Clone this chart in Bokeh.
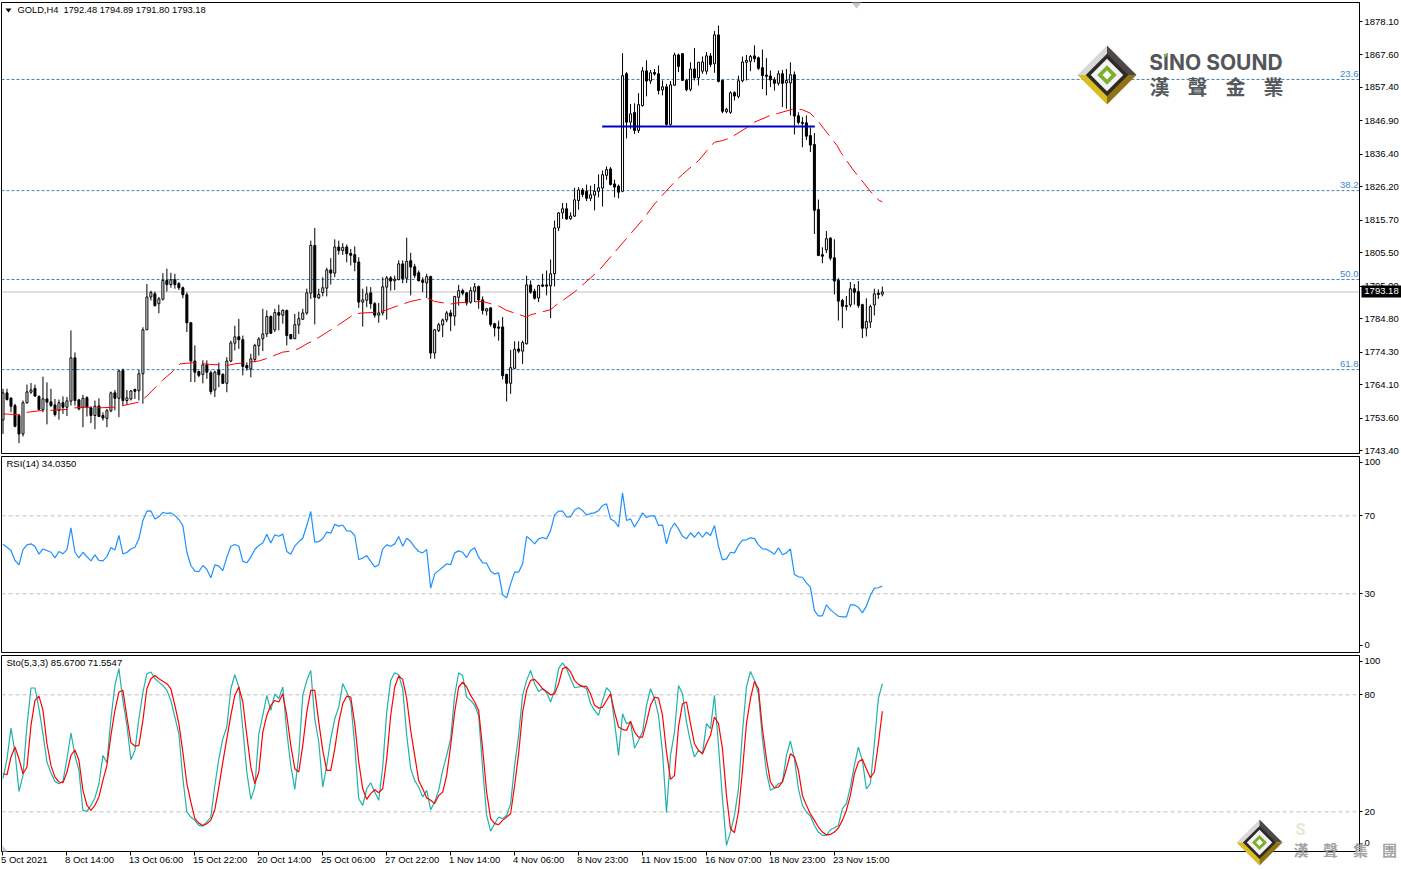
import numpy as np
from bokeh.plotting import figure
from bokeh.layouts import column
from bokeh.models import (Range1d, FixedTicker, Label, PolyAnnotation, ColumnDataSource, AllLabels)
from bokeh.embed import file_html
from bokeh.resources import INLINE

symbol_text = "GOLD,H4\u00a0\u00a01792.48 1794.89 1791.80 1793.18"
rsi_text = "RSI(14) 34.0350"
sto_text = "Sto(5,3,3) 85.6700 71.5547"

opens = [1753.0,1761.5,1759.8,1757.5,1754.4,1748.6,1758.4,1761.7,1762.9,1760.4,
1756.3,1759.6,1758.7,1757.7,1756.0,1758.4,1757.0,1758.9,1772.5,1759.3,
1757.0,1760.0,1756.8,1754.4,1757.4,1754.4,1753.5,1755.9,1761.5,1759.8,
1768.5,1759.1,1759.6,1762.6,1762.2,1767.5,1781.3,1791.6,1792.6,1789.5,
1790.9,1796.8,1795.5,1797.0,1795.8,1794.5,1792.3,1783.5,1771.5,1768.2,
1767.3,1770.3,1767.8,1762.4,1768.7,1767.3,1764.5,1771.5,1777.1,1779.1,
1778.2,1770.1,1769.0,1772.0,1776.3,1778.5,1780.0,1785.5,1781.3,1786.7,
1785.9,1787.4,1779.8,1778.5,1782.8,1784.6,1786.6,1792.8,1807.8,1791.3,
1793.0,1794.4,1800.1,1799.1,1807.3,1806.2,1807.3,1805.3,1804.9,1802.6,
1790.0,1790.6,1792.9,1789.5,1785.9,1786.6,1794.7,1797.6,1796.7,1797.1,
1802.0,1797.5,1803.0,1801.1,1799.2,1796.8,1796.0,1798.0,1774.0,1781.1,
1782.8,1784.4,1786.6,1785.6,1791.5,1793.6,1792.9,1790.0,1793.4,1794.9,
1790.7,1787.2,1788.2,1783.2,1782.2,1782.2,1767.3,1764.5,1769.2,1775.3,
1774.6,1776.9,1795.4,1793.4,1791.3,1795.4,1795.4,1795.1,1798.9,1813.3,
1818.0,1819.3,1816.2,1817.0,1821.9,1825.2,1824.8,1822.6,1823.6,1824.8,
1825.8,1829.8,1831.8,1827.1,1826.4,1824.8,1861.7,1846.5,1849.5,1843.9,
1851.7,1862.6,1859.4,1862.1,1861.7,1856.6,1857.6,1845.8,1858.1,1867.6,
1868.0,1859.6,1856.8,1863.2,1860.4,1862.5,1862.5,1867.3,1864.8,1873.9,
1859.6,1849.8,1849.6,1855.8,1854.6,1859.5,1865.3,1865.6,1867.3,1866.7,
1863.6,1861.3,1861.0,1859.8,1858.7,1861.7,1858.8,1858.8,1861.4,1848.5,
1846.4,1846.3,1842.3,1839.5,1819.1,1804.9,1806.4,1810.1,1803.9,1796.8,
1790.5,1788.9,1789.1,1794.2,1793.3,1789.2,1781.8,1783.7,1789.1,1792.8,
1792.48]
highs = [1762.8,1762.8,1760.2,1758.1,1754.9,1759.1,1764.1,1764.6,1764.1,1760.7,
1766.6,1764.8,1762.8,1759.6,1759.4,1760.4,1760.2,1781.1,1774.2,1759.6,
1760.9,1760.4,1757.3,1759.1,1759.8,1755.4,1756.5,1761.9,1762.4,1768.7,
1769.1,1762.4,1762.4,1762.8,1768.7,1782.1,1795.7,1793.6,1793.3,1791.6,
1799.1,1800.5,1799.2,1798.9,1796.3,1794.9,1793.1,1783.7,1776.4,1768.5,
1771.7,1771.7,1768.5,1768.5,1771.0,1767.7,1772.7,1777.9,1782.6,1784.7,
1779.5,1771.1,1773.8,1776.9,1779.0,1787.9,1787.4,1785.8,1787.9,1789.2,
1787.7,1787.6,1780.0,1786.3,1787.0,1787.9,1794.2,1809.3,1813.3,1794.2,
1797.8,1800.8,1803.8,1809.7,1809.3,1808.5,1808.1,1806.7,1807.5,1804.1,
1794.2,1794.9,1794.7,1790.0,1789.7,1797.8,1798.2,1798.2,1798.3,1803.1,
1803.1,1810.2,1805.5,1802.0,1799.9,1797.8,1798.9,1798.3,1781.6,1783.5,
1784.8,1787.2,1787.6,1791.8,1795.4,1794.2,1793.1,1794.7,1796.0,1795.2,
1791.8,1788.2,1788.2,1783.5,1784.2,1785.3,1767.5,1775.0,1777.7,1777.7,
1777.9,1798.3,1796.8,1794.2,1795.5,1798.9,1799.9,1803.4,1815.6,1818.2,
1821.1,1821.1,1818.2,1825.9,1826.1,1825.8,1826.9,1826.6,1827.1,1830.1,
1831.3,1832.6,1832.4,1828.4,1826.9,1868.2,1862.2,1852.2,1852.4,1855.6,
1863.8,1865.9,1862.9,1863.2,1864.3,1859.6,1858.5,1859.4,1868.3,1868.0,
1868.2,1860.1,1865.3,1869.8,1865.3,1867.1,1868.5,1868.2,1875.1,1876.8,
1859.8,1851.0,1856.2,1856.2,1861.1,1867.1,1867.6,1867.6,1870.6,1867.1,
1869.3,1866.6,1862.7,1860.6,1862.7,1862.9,1863.2,1865.3,1862.4,1849.6,
1848.1,1848.6,1844.9,1843.1,1822.2,1807.2,1812.3,1810.4,1809.7,1797.5,
1791.0,1791.9,1796.3,1795.7,1796.6,1789.5,1791.2,1789.2,1794.2,1794.0,
1794.89]
lows = [1748.6,1759.1,1755.4,1750.7,1745.7,1747.8,1758.1,1761.2,1760.2,1756.0,
1755.4,1751.6,1757.0,1754.1,1753.1,1754.9,1754.2,1757.5,1757.5,1756.0,
1750.7,1754.1,1752.0,1750.1,1753.9,1752.8,1750.7,1755.4,1756.0,1753.9,
1757.5,1757.8,1759.1,1759.6,1759.1,1758.1,1781.3,1790.5,1788.6,1786.5,
1790.5,1793.3,1794.5,1794.2,1793.8,1791.2,1780.6,1764.9,1764.9,1766.4,
1764.5,1765.9,1761.0,1760.2,1763.3,1764.3,1761.7,1771.1,1774.8,1775.3,
1767.0,1768.5,1766.4,1771.1,1773.2,1774.6,1779.0,1780.0,1780.6,1781.1,
1783.2,1776.4,1778.3,1778.5,1780.0,1784.5,1786.0,1791.0,1783.0,1791.0,
1791.8,1791.8,1795.5,1797.8,1804.9,1804.8,1802.5,1801.5,1799.7,1788.2,
1782.3,1788.4,1787.9,1785.1,1783.5,1785.8,1784.5,1793.6,1793.8,1796.8,
1795.9,1796.0,1792.1,1797.6,1796.5,1793.1,1791.3,1772.2,1772.2,1780.6,
1779.0,1783.7,1780.9,1782.6,1788.9,1792.1,1788.9,1789.5,1790.0,1787.9,
1786.1,1785.8,1782.3,1779.2,1777.9,1765.7,1758.8,1761.2,1769.0,1774.0,
1770.6,1776.7,1792.6,1790.8,1790.0,1794.7,1792.1,1785.0,1794.9,1812.3,
1816.1,1815.8,1815.8,1816.7,1819.0,1823.0,1821.7,1821.7,1818.8,1822.9,
1820.0,1828.4,1826.6,1822.9,1822.6,1824.5,1841.4,1844.4,1842.8,1843.1,
1851.4,1854.6,1858.5,1861.1,1855.2,1854.9,1845.4,1845.4,1857.9,1862.2,
1859.4,1856.2,1856.2,1859.6,1858.0,1861.7,1861.5,1863.8,1862.0,1859.0,
1849.3,1849.3,1849.1,1853.3,1854.0,1859.0,1859.6,1862.5,1865.3,1862.9,
1856.9,1854.9,1857.5,1856.4,1858.0,1851.2,1850.7,1848.6,1842.6,1845.8,
1838.6,1840.9,1837.1,1811.4,1804.6,1802.2,1805.4,1803.1,1792.4,1784.2,
1781.8,1787.4,1788.4,1789.2,1788.2,1778.7,1779.2,1781.9,1785.8,1791.0,
1791.80]
closes = [1761.5,1759.4,1757.3,1751.0,1748.6,1758.4,1761.8,1762.4,1760.5,1756.3,
1759.6,1758.6,1757.5,1754.7,1758.4,1757.0,1759.0,1772.5,1759.1,1756.5,
1759.8,1757.0,1754.4,1757.3,1754.1,1753.6,1755.9,1761.5,1759.8,1768.4,
1759.1,1759.9,1762.1,1762.0,1767.5,1781.3,1791.6,1793.0,1788.9,1791.0,
1796.8,1795.5,1797.0,1795.5,1794.5,1792.3,1783.5,1771.5,1768.0,1767.0,
1770.3,1768.0,1761.9,1768.0,1767.2,1764.5,1771.5,1777.2,1779.1,1778.2,
1769.8,1769.3,1772.2,1776.4,1778.4,1780.0,1785.5,1780.2,1786.7,1785.9,
1787.4,1779.5,1778.5,1782.9,1784.8,1786.6,1792.9,1807.8,1791.5,1792.4,
1794.5,1800.1,1799.1,1807.3,1806.2,1807.2,1805.2,1804.7,1802.5,1790.0,
1790.7,1792.6,1789.5,1785.9,1786.6,1794.8,1797.6,1796.6,1797.2,1802.0,
1797.3,1802.8,1801.0,1798.4,1796.7,1796.2,1798.0,1774.0,1781.3,1782.9,
1784.4,1786.6,1785.6,1791.8,1793.6,1792.8,1789.7,1793.6,1794.8,1790.7,
1787.4,1787.9,1783.0,1781.9,1781.8,1766.9,1764.5,1769.4,1775.2,1774.6,
1777.3,1795.4,1793.1,1791.2,1795.2,1795.0,1795.0,1798.9,1813.3,1818.0,
1819.3,1816.1,1817.0,1822.1,1825.2,1823.8,1822.6,1823.7,1824.8,1825.9,
1830.0,1831.6,1826.9,1826.1,1824.5,1861.1,1846.5,1849.1,1843.9,1852.0,
1862.6,1859.4,1862.0,1861.6,1856.4,1857.6,1845.8,1858.2,1867.6,1864.0,
1859.6,1856.7,1863.2,1860.4,1865.3,1865.4,1867.3,1864.6,1873.9,1859.3,
1849.9,1850.5,1855.7,1854.7,1859.5,1865.4,1865.9,1867.1,1866.4,1863.4,
1861.1,1860.9,1859.8,1858.7,1861.7,1858.7,1859.6,1861.4,1848.4,1846.4,
1846.1,1842.1,1839.3,1818.8,1804.6,1804.4,1809.9,1803.8,1796.6,1790.3,
1788.7,1788.6,1794.2,1793.1,1788.9,1781.8,1783.9,1788.6,1792.6,1792.4,
1793.18]

ma_bar = [0,4.3,6,10,12,16,18,21,24,28,30,34,36,40,42,44.3,47.7,52,54,56,58,60,64,66,70,72,74,76,78,82,84,88,90,94,96,100,102,106,108,112,114,118,120,124,126,131,132,137,138,143,145,149,160,163,164.5,168,170,174,176,178,180,182,186,188,192,194,198,200,202,204,205.4,208.7,209.6,212.7,214.2,217.5,219.2,220]
ma_val = [1754.9,1754.6,1755.4,1756.0,1756.0,1756.3,1756.8,1757.0,1756.8,1757.0,1757.5,1758.6,1760.5,1765.6,1767.7,1770.6,1771.0,1770.4,1770.3,1770.1,1770.6,1770.9,1771.5,1772.3,1774.3,1774.6,1775.4,1776.9,1778.1,1781.3,1782.9,1786.3,1786.6,1786.8,1787.6,1789.4,1790.2,1791.3,1790.2,1789.4,1789.8,1790.1,1790.2,1788.8,1787.4,1785.3,1786.0,1787.6,1788.7,1793.2,1795.4,1799.8,1815.8,1820.8,1822.9,1827.7,1830.1,1834.4,1837.4,1840.2,1840.7,1841.6,1844.7,1846.5,1848.6,1849.3,1850.7,1850.4,1849.3,1846.7,1844.4,1839.1,1837.0,1831.5,1829.2,1824.0,1821.9,1821.5]

fib_levels = [1859.9, 1825.0, 1797.1, 1768.8]
fib_names = ["23.6", "38.2", "50.0", "61.8"]
last_price = 1793.18
hline_bars = [149.9, 203.1]
hline_price = 1845.13

rsi = [55.4,53.9,52.2,47.1,44.8,52.7,55.1,55.6,54.4,50.3,53.0,52.2,51.3,48.4,51.7,50.5,52.7,63.8,51.3,48.4,51.3,49.1,46.9,50.0,47.1,46.9,49.1,53.7,52.5,59.9,50.5,51.2,53.0,53.9,58.2,67.6,72.4,72.5,68.4,69.5,71.8,71.2,71.5,70.1,68.1,65.0,51.3,44.5,41.6,41.3,44.5,42.5,38.2,44.8,44.2,41.9,48.8,54.4,55.3,54.4,46.6,45.9,48.8,52.7,54.8,56.1,60.6,56.1,60.2,59.5,60.6,51.7,50.3,54.4,56.8,58.5,65.0,72.2,56.5,56.8,58.2,61.6,61.1,65.7,64.7,65.3,62.3,62.1,59.9,47.6,48.3,49.6,46.6,43.8,44.8,53.0,55.1,54.4,55.6,59.4,54.4,58.5,56.8,53.9,51.7,51.0,52.7,32.9,40.2,41.9,43.6,45.4,
45.0,51.0,52.0,51.3,48.6,52.2,53.6,48.8,45.9,45.7,41.6,40.2,40.7,29.5,27.9,35.1,41.1,41.1,45.4,59.4,57.8,55.6,58.2,58.9,58.2,62.4,70.5,72.4,72.4,69.5,69.5,73.0,74.1,72.7,70.5,71.2,71.5,72.7,75.3,76.1,68.4,67.2,64.3,81.8,67.6,68.4,64.3,67.6,71.5,69.1,70.0,70.0,65.0,65.3,55.6,63.0,66.2,63.3,59.5,58.2,61.3,59.0,61.6,59.0,61.6,59.9,65.0,54.4,47.4,47.9,51.3,51.0,54.8,57.5,57.7,58.7,58.3,55.1,53.0,52.9,51.7,50.3,53.6,50.0,51.0,53.0,39.9,38.7,38.5,35.6,33.4,21.4,18.7,18.7,24.3,21.9,20.1,18.5,18.2,18.2,24.3,24.3,23.1,20.2,23.7,29.1,32.9,33.1,34.04]

sto_main = [37.0,47.2,62.9,50.6,30.5,38.7,64.3,83.5,83.5,72.9,60.0,45.5,40.0,35.6,34.4,35.6,47.2,60.4,48.9,41.2,20.7,20.2,23.3,27.1,34.4,48.9,45.2,67.7,84.8,93.4,77.1,64.3,46.7,51.5,67.7,81.4,90.8,91.7,88.2,86.5,84.8,82.3,77.1,68.6,60.0,37.0,19.9,17.3,15.6,13.0,12.7,14.8,17.3,33.5,47.2,57.5,63.5,83.1,90.3,84.0,62.6,40.4,26.4,32.7,60.0,69.4,79.7,72.0,80.5,78.0,84.0,60.9,43.8,31.5,48.9,79.7,87.4,92.5,67.7,55.8,32.7,43.8,57.5,67.7,73.7,85.7,81.4,76.3,54.1,26.7,23.3,31.8,34.9,30.1,25.9,43.0,71.1,87.4,91.3,90.3,83.1,59.2,42.1,36.1,32.7,27.6,31.0,21.1,25.0,31.0,
41.2,48.9,57.5,79.7,91.3,89.9,78.8,77.1,74.6,69.4,42.1,18.2,10.1,13.9,17.3,16.5,18.2,24.2,43.8,59.2,79.7,87.4,92.5,85.7,81.7,83.1,81.1,76.3,82.3,93.4,96.4,93.4,88.2,83.6,84.0,84.3,83.1,75.4,72.0,69.4,77.1,83.6,81.4,66.0,48.9,70.3,65.2,66.0,52.7,56.6,60.9,74.6,83.1,78.0,69.4,50.6,19.5,48.9,60.9,84.8,80.5,66.0,55.8,48.1,51.5,49.8,65.2,62.6,79.7,54.1,26.7,2.8,9.6,18.2,31.8,60.9,84.0,92.0,87.4,80.5,57.5,40.4,31.0,32.2,34.4,35.3,48.9,56.3,47.2,31.8,23.3,19.9,17.8,13.0,9.6,7.9,7.9,10.8,11.8,13.0,21.6,24.2,32.7,43.8,53.2,46.4,31.8,34.4,54.9,78.0,85.67]
sto_signal = [39.5,39.0,48.1,53.2,47.2,39.5,43.0,64.3,77.1,79.3,72.0,54.9,43.8,37.8,35.3,34.9,40.4,48.9,51.7,46.4,31.0,23.3,20.7,23.3,27.6,36.1,43.8,59.2,72.0,81.4,82.3,68.6,55.4,53.7,54.1,66.9,83.1,88.2,89.9,88.2,86.9,85.7,83.1,74.6,65.2,50.6,34.4,25.0,16.5,14.2,13.0,13.9,15.6,21.2,32.7,45.5,57.5,69.4,79.7,84.0,76.3,59.2,43.0,34.4,40.4,60.9,69.4,74.6,77.1,76.3,80.5,69.4,54.1,42.1,40.4,54.1,71.1,82.3,82.3,66.0,51.5,41.2,41.2,52.3,66.0,75.4,79.3,78.8,65.2,45.5,31.8,26.4,29.3,31.3,29.8,31.8,47.2,69.4,84.0,89.6,87.9,78.0,61.7,48.9,36.1,31.8,27.1,25.9,24.2,28.4,
30.1,38.7,54.1,71.1,84.0,86.5,84.0,79.7,76.3,72.0,52.3,30.1,16.5,13.9,13.4,15.6,17.3,19.0,33.5,49.8,71.1,82.3,87.4,87.9,85.7,83.1,81.7,80.0,80.5,85.7,93.4,94.2,91.7,87.4,85.2,84.3,84.3,80.5,74.6,73.2,73.7,77.1,80.5,71.1,63.5,62.3,61.7,66.5,60.9,58.3,58.3,66.0,74.6,78.8,78.3,69.4,50.6,36.6,38.7,63.5,75.4,76.3,65.2,54.9,51.5,49.8,54.9,59.2,68.6,65.2,52.3,28.4,11.3,9.3,19.9,41.2,65.2,78.0,86.9,83.1,62.6,47.2,35.3,32.2,32.7,35.3,42.1,49.8,48.1,41.2,28.4,23.3,19.0,15.6,12.2,9.6,8.2,8.4,9.6,11.7,15.6,20.7,28.4,39.5,45.5,46.9,42.1,37.5,40.4,54.9,71.55]

price_ticks = [1878.1,1867.6,1857.4,1846.9,1836.4,1826.2,1815.7,1805.5,1795.0,1784.8,1774.3,1764.1,1753.6,1743.4]
date_ticks = [0,16,32,48,64,80,96,112,128,144,160,176,192,208]
date_labels = ["5 Oct 2021","8 Oct 14:00","13 Oct 06:00","15 Oct 22:00","20 Oct 14:00","25 Oct 06:00","27 Oct 22:00","1 Nov 14:00","4 Nov 06:00","8 Nov 23:00","11 Nov 15:00","16 Nov 07:00","18 Nov 23:00","23 Nov 15:00"]
rsi_levels = [70, 30]
sto_levels = [80, 20]

assert len(opens)==len(highs)==len(lows)==len(closes)==221
assert len(sto_main)==221 and len(sto_signal)==221 and len(rsi)==221

FONT = "Liberation Sans"
FS = "9.5px"
BLACK = "#000000"

def X(px): return (px - 2.5) / 4.0
def Y1(py): return 1878.1 - (py - 21) / 3.185
def V2(py): return (651.8 - py) / 1.95
def V3(py): return (850.3 - py) / 1.95

xr = Range1d(X(1), X(1360))

def make(h, top, bottom, ymin, ymax, bottom_axis=False, margin=(0, 0, 0, 0)):
    p = figure(width=1401, height=h, x_range=xr, y_range=Range1d(ymin, ymax),
               output_backend="svg", toolbar_location=None, y_axis_location="right",
               x_axis_type="linear" if bottom_axis else None, margin=margin,
               min_border_left=1, min_border_right=41, min_border_top=top, min_border_bottom=bottom)
    p.grid.visible = False
    p.background_fill_color = "#ffffff"
    p.border_fill_color = "#ffffff"
    p.outline_line_color = BLACK
    p.outline_line_width = 1
    ax = p.yaxis[0]
    ax.axis_line_color = BLACK
    ax.major_tick_line_color = BLACK
    ax.major_tick_in = 0
    ax.major_tick_out = 3
    ax.minor_tick_line_color = None
    ax.major_label_text_font = FONT
    ax.major_label_text_font_size = FS
    ax.major_label_text_color = BLACK
    ax.major_label_standoff = 2
    ax.major_label_policy = AllLabels()
    return p

# A transparent page-sized layer on top of the panels holds whatever sits outside
# or across their frames: headers, price tag, date labels and the two logos.
ov = figure(width=1401, height=869, x_range=Range1d(0, 1401), y_range=Range1d(869, 0),
            output_backend="svg", toolbar_location=None, x_axis_type=None, y_axis_type=None,
            min_border=0, min_border_left=0, min_border_right=0, min_border_top=0, min_border_bottom=0,
            margin=(0, 0, 0, 0), styles={"position": "absolute", "left": "0px", "top": "0px"})
ov.grid.visible = False
ov.background_fill_color = None
ov.border_fill_color = None
ov.outline_line_color = None

def label(px, py, text, color=BLACK, size=FS, align="left", font=FONT, style="normal"):
    ov.add_layout(Label(x=px, y=py - 1, text=text, text_color=color,
                        text_font_size=size, text_align=align, text_baseline="middle",
                        text_font=font, text_font_style=style))

def poly(pts, color):
    ov.add_layout(PolyAnnotation(xs=[a for a, _ in pts], ys=[b for _, b in pts],
                                 fill_color=color, fill_alpha=1.0, line_color=None, level="annotation"))

def diamond(cx, cy, s):
    L=(cx-s,cy); T=(cx,cy-s); R=(cx+s,cy); B=(cx,cy+s); C=(cx,cy)
    poly([L,T,C],"#d9d9d9"); poly([T,R,C],"#4d4847")
    poly([L,B,C],"#d8bc22"); poly([R,B,C],"#8f7212")
    def d(k, col):
        h=s*k
        poly([(cx-h,cy),(cx,cy-h),(cx+h,cy),(cx,cy+h)],col)
    d(0.72,"#2f2a27")
    d(0.55,"#f3f3f3")
    d(0.33,"#7fae2e")
    d(0.15,"#ffffff")

# ---------- main ----------
p1 = make(456, 2, 3, Y1(453), Y1(2))
p1.yaxis[0].ticker = FixedTicker(ticks=price_ticks)
p1.yaxis[0].major_label_overrides = {t: f"{t:.2f}" for t in price_ticks}

bars = np.arange(len(opens))
o = np.array(opens); c = np.array(closes); up = c >= o
for lvl in fib_levels:
    p1.line([X(1), X(1360)], [lvl, lvl], line_color="#4682b4", line_width=1, line_dash="3 2")
p1.line([X(1), X(1360)], [last_price, last_price], line_color="#c0c0c0", line_width=1)

src = ColumnDataSource(dict(x=bars, high=highs, low=lows,
                            top=np.maximum(o, c), bottom=np.minimum(o, c),
                            fill=["#ffffff" if u else "#000000" for u in up]))
p1.segment("x", "high", "x", "low", source=src, line_color=BLACK, line_width=1)
p1.vbar(x="x", width=0.5, top="top", bottom="bottom", source=src, fill_color="fill", line_color=BLACK, line_width=1)
p1.line(ma_bar, ma_val, line_color="#ff0000", line_width=1, line_dash="17 7")
p1.line(hline_bars, [hline_price, hline_price], line_color="#0000cd", line_width=2)

for name, py in zip(fib_names, [74, 185, 274, 364]):
    label(1358, py, name, color="#3d87d6", align="right")

poly([(5,8),(11,8),(8,12)], BLACK)
poly([(851,2),(861,2),(856,8)], "#c8c8c8")
label(17, 10, symbol_text, size="9.3px")

# price tag
poly([(1361,285),(1401,285),(1401,297),(1361,297)], BLACK)
label(1381, 291.5, "1793.18", color="#ffffff", align="center")

# logo
diamond(1106.5, 74.5, 29.5)
label(1215.5, 63, "SINO SOUND", color="#53575c", size="21px", align="center", font="Inter", style="bold")
poly([(1163,54),(1168,52),(1165,57)], "#8ab832")
for ch, px in zip("漢聲金業", [1159, 1197, 1235, 1273]):
    label(px, 87, ch, color="#55595e", size="20px", align="center", font="Noto Sans CJK TC", style="bold")

# ---------- RSI ----------
p2 = make(199, 2, 1, V2(652), V2(456), margin=(-2, 0, 0, 0))
p2.yaxis[0].ticker = FixedTicker(ticks=[97.4, 70, 30, 3.6])
p2.yaxis[0].major_label_overrides = {97.4: "100", 70: "70", 30: "30", 3.6: "0"}
for lvl in rsi_levels:
    p2.line([X(1), X(1360)], [lvl, lvl], line_color="#c0c0c0", line_width=1, line_dash="4 3")
p2.line(np.arange(len(rsi)), rsi, line_color="#1e90ff", line_width=1.2)
label(6, 464, rsi_text)

# ---------- Stochastic ----------
p3 = make(216, 2, 18, V3(851), V3(655), bottom_axis=True)
p3.yaxis[0].ticker = FixedTicker(ticks=[97.2, 80, 20, 3.8])
p3.yaxis[0].major_label_overrides = {97.2: "100", 80: "80", 20: "20", 3.8: "0"}
xa = p3.xaxis[0]
xa.ticker = FixedTicker(ticks=date_ticks)
xa.major_label_overrides = {t: "" for t in date_ticks}
xa.major_tick_in = 0
xa.major_tick_out = 4
xa.minor_tick_line_color = None
xa.axis_line_color = BLACK
xa.major_tick_line_color = BLACK
for t, txt in zip(date_ticks, date_labels):
    label(2.5 + 4 * t - 2, 860, txt)
for lvl in sto_levels:
    p3.line([X(1), X(1360)], [lvl, lvl], line_color="#c0c0c0", line_width=1, line_dash="4 3")
p3.line(np.arange(len(sto_main)), sto_main, line_color="#20b2aa", line_width=1.2)
p3.line(np.arange(len(sto_signal)), sto_signal, line_color="#ff0000", line_width=1.2)
label(6, 663, sto_text)
poly([(2,845),(2,851),(7,851)], "#c8c8c8")

diamond(1259, 842, 23)
label(1300, 830, "S", color="#e6e8d8", size="16px", align="center", font="Roboto", style="bold")
for ch, px in zip("漢聲集團", [1300.5, 1330, 1360, 1389]):
    label(px, 850, ch, color="#a3a3a3", size="15px", align="center", font="Noto Sans CJK TC", style="bold")

root = column(p1, p2, p3, spacing=0, styles={"position": "absolute", "left": "0px", "top": "0px"})
open("out.html", "w").write(file_html([root, ov], INLINE))
